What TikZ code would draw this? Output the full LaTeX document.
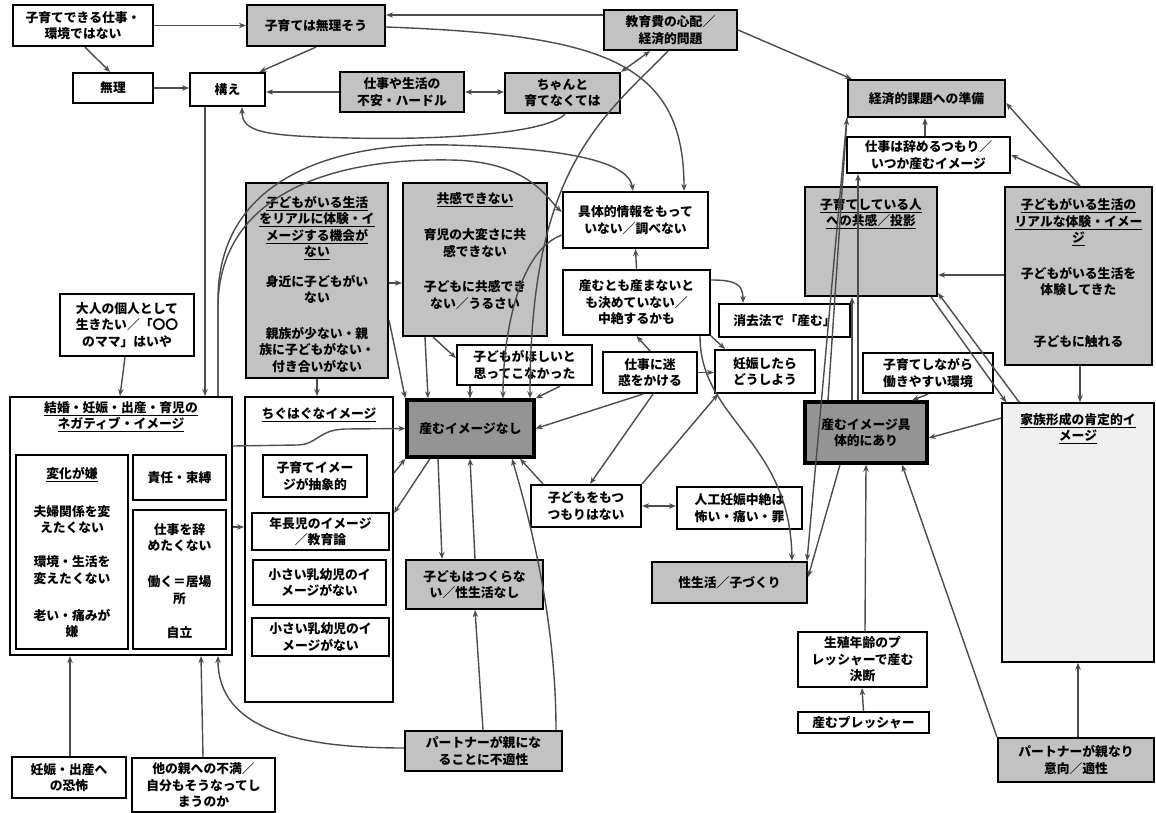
\documentclass[tikz,border=0pt]{standalone}
\usepackage{fontspec}
\setmainfont{Noto Sans CJK JP}
\usetikzlibrary{arrows.meta}
\definecolor{shade}{gray}{0.76}
\definecolor{dark}{gray}{0.58}
\definecolor{light}{gray}{0.94}
\definecolor{conc}{gray}{0.30}
\newcommand\jpf{\fontsize{12.8}{16.5}\selectfont\bfseries}
\tikzset{
  base/.style={draw=black, line width=2.2pt, inner sep=1pt, align=center, font=\jpf},
  wbox/.style={base, fill=white},
  gbox/.style={base, fill=shade},
  dbox/.style={base, fill=dark, line width=3.4pt},
  ibox/.style={base, fill=white, line width=1.8pt},
  lbox/.style={base, fill=light, line width=1.6pt},
  lbl/.style={inner sep=0pt, align=center, font=\jpf},
  con/.style={draw=conc, line width=1.4pt, -{Stealth[length=7pt,width=5.5pt]}},
  dcon/.style={draw=conc, line width=1.4pt, {Stealth[length=7pt,width=5.5pt]}-{Stealth[length=7pt,width=5.5pt]}},
}
\begin{document}
\begin{tikzpicture}[x=1pt,y=-1pt]
\useasboundingbox (0,0) rectangle (1156,813);
\fill[white] (0,0) rectangle (1156,813);

% ---------- nodes ----------
\node[wbox, minimum width=140pt, minimum height=41pt] (A1) at (83,25.5) {子育てできる仕事・\\環境ではない};
\node[gbox, minimum width=138pt, minimum height=41pt] (B) at (316,25.5) {子育ては無理そう};
\node[gbox, minimum width=133pt, minimum height=40pt] (C) at (670.5,30) {教育費の心配／\\経済的問題};
\node[wbox, minimum width=80pt, minimum height=30pt] (D) at (113,88) {無理};
\node[wbox, minimum width=75pt, minimum height=33pt] (E) at (227.5,89.5) {構え};
\node[gbox, minimum width=124pt, minimum height=40pt] (F) at (402,92) {仕事や生活の\\不安・ハードル};
\node[gbox, minimum width=115pt, minimum height=40pt] (G) at (562.5,93) {ちゃんと\\育てなくては};
\node[gbox, minimum width=157pt, minimum height=37pt] (H) at (926.5,98.5) {経済的課題への準備};
\node[wbox, minimum width=163pt, minimum height=36pt] (I) at (928.5,155) {仕事は辞めるつもり／\\いつか産むイメージ};

\node[gbox, minimum width=132pt, minimum height=109pt] (J) at (871,241.5) {};
\node[lbl] (Jt) at (871,213.5) {\underline{子育てしている人}\\\underline{への共感／投影}};

\node[gbox, minimum width=147pt, minimum height=178pt] (K) at (1078.5,276) {};
\node[lbl] (Kt1) at (1078.5,222) {\underline{子どもがいる生活の}\\\underline{リアルな体験・イメー}\\\underline{ジ}};
\node[lbl] (Kt2) at (1078.5,281.5) {子どもがいる生活を\\体験してきた};
\node[lbl] (Kt3) at (1078.5,342) {子どもに触れる};

\node[wbox, minimum width=145pt, minimum height=56pt] (L) at (635.5,220) {具体的情報をもって\\いない／調べない};
\node[wbox, minimum width=147pt, minimum height=65pt] (M) at (636.5,302.5) {産むとも産まないと\\も決めていない／\\中絶するかも};
\node[wbox, minimum width=131pt, minimum height=33pt] (N) at (784.5,320.5) {消去法で「産む」};

\node[gbox, minimum width=142pt, minimum height=195pt] (O) at (317,280.5) {};
\node[lbl] (Ot1) at (317,228) {\underline{子どもがいる生活}\\\underline{をリアルに体験・イ}\\\underline{メージする機会が}\\\underline{ない}};
\node[lbl] (Ot2) at (317,289.5) {身近に子どもがい\\ない};
\node[lbl] (Ot3) at (317,350) {親族が少ない・親\\族に子どもがない・\\付き合いがない};

\node[gbox, minimum width=144pt, minimum height=153pt] (P) at (475,259.5) {};
\node[lbl] (Pt1) at (475,200) {\underline{共感できない}};
\node[lbl] (Pt2) at (475,243) {育児の大変さに共\\感できない};
\node[lbl] (Pt3) at (475,295) {子どもに共感でき\\ない／うるさい};

\node[wbox, minimum width=134pt, minimum height=62pt] (Q) at (127,325) {大人の個人として\\生きたい／「〇〇\\のママ」はいや};

\node[wbox, line width=2pt, minimum width=222pt, minimum height=258pt] (R) at (121,526) {};
\node[lbl] (Rt) at (121,416.5) {\underline{結婚・妊娠・出産・育児の}\\\underline{ネガティブ・イメージ}};
\node[ibox, minimum width=112pt, minimum height=194pt] (R1) at (72,552) {};
\node[lbl] (R1t1) at (72,475) {\underline{変化が嫌}};
\node[lbl] (R1t2) at (72,519.5) {夫婦関係を変\\えたくない};
\node[lbl] (R1t3) at (72,570) {環境・生活を\\変えたくない};
\node[lbl] (R1t4) at (72,623.5) {老い・痛みが\\嫌};
\node[ibox, minimum width=93pt, minimum height=45pt] (R2) at (179.5,477.5) {責任・束縛};
\node[ibox, minimum width=93pt, minimum height=139pt] (R3) at (179.5,579.5) {};
\node[lbl] (R3t1) at (179.5,537.5) {仕事を辞\\めたくない};
\node[lbl] (R3t2) at (179.5,590) {働く＝居場\\所};
\node[lbl] (R3t3) at (179.5,633) {自立};

\node[wbox, line width=2pt, minimum width=148pt, minimum height=305pt] (S) at (319,549.5) {};
\node[lbl] (St) at (319,415) {\underline{ちぐはぐなイメージ}};
\node[ibox, minimum width=104pt, minimum height=42pt] (S1) at (315,476) {子育てイメー\\ジが抽象的};
\node[ibox, minimum width=137pt, minimum height=37pt] (S2) at (320.5,531.5) {年長児のイメージ\\／教育論};
\node[ibox, minimum width=133pt, minimum height=45pt] (S3) at (319.5,582.5) {小さい乳幼児のイ\\メージがない};
\node[ibox, minimum width=137pt, minimum height=38pt] (S4) at (320.5,637) {小さい乳幼児のイ\\メージがない};

\node[wbox, minimum width=135pt, minimum height=40pt] (T) at (524.5,365) {子どもがほしいと\\思ってこなかった};
\node[wbox, minimum width=94pt, minimum height=41pt] (U) at (650,372.5) {仕事に迷\\惑をかける};
\node[wbox, minimum width=100pt, minimum height=43pt] (V) at (765,371.5) {妊娠したら\\どうしよう};
\node[wbox, minimum width=130pt, minimum height=40pt] (W) at (928,373) {子育てしながら\\働きやすい環境};
\node[dbox, minimum width=127pt, minimum height=57pt] (X) at (470.5,428.5) {産むイメージなし};
\node[dbox, minimum width=122pt, minimum height=61pt] (Y) at (866,432.5) {産むイメージ具\\体的にあり};

\node[lbox, minimum width=152pt, minimum height=259pt] (Z) at (1078,532.5) {};
\node[lbl] (Zt) at (1078,428.5) {\underline{家族形成の肯定的イ}\\\underline{メージ}};

\node[wbox, minimum width=110pt, minimum height=42pt] (AA) at (586,506) {子どもをもつ\\つもりはない};
\node[wbox, minimum width=125pt, minimum height=42pt] (AB) at (739.5,508) {人工妊娠中絶は\\怖い・痛い・罪};
\node[gbox, minimum width=137pt, minimum height=49pt] (AC) at (474.5,584.5) {子どもはつくらな\\い／性生活なし};
\node[gbox, minimum width=155pt, minimum height=41pt] (AD) at (729.5,582.5) {性生活／子づくり};
\node[wbox, minimum width=129pt, minimum height=55pt] (AE) at (862.5,659.5) {生殖年齢のプ\\レッシャーで産む\\決断};
\node[wbox, minimum width=131pt, minimum height=21pt] (AF) at (863.5,722.5) {産むプレッシャー};
\node[gbox, minimum width=156pt, minimum height=44pt] (AG) at (1076,760) {パートナーが親なり\\意向／適性};
\node[gbox, minimum width=157pt, minimum height=40pt] (AH) at (483.5,751) {パートナーが親にな\\ることに不適性};
\node[wbox, minimum width=114pt, minimum height=41pt] (AI) at (69,777.5) {妊娠・出産へ\\の恐怖};
\node[wbox, minimum width=143pt, minimum height=54pt] (AJ) at (203.5,785) {他の親への不満／\\自分もそうなってし\\まうのか};

% ---------- connectors ----------
\draw[con] (A1.east) -- (A1.east -| B.west);
\draw[con] ([xshift=2pt]A1.south) -- ([xshift=-3pt]D.north);
\draw[con] (B.south) -- ([xshift=32pt]E.north);
\draw[con] (D.east) -- (D.east -| E.west);
\draw[con] (F.west) -- (F.west -| E.east);
\draw[dcon] (F.east) -- (F.east -| G.west);
\draw[con] ([yshift=15pt]C.west) -- ([yshift=15pt]C.west -| B.east);
\draw[con] ([yshift=-1.5pt]B.east) .. controls (600,35) and (684,60) .. ([xshift=48.5pt]L.north);
\draw[con] (C.east) -- ([xshift=-75pt]H.north);
\draw[dcon] (G.north east) -- ([xshift=-20.5pt]C.south);
\draw[con] ([xshift=-2.5pt]C.south) .. controls (600,120) and (530,170) .. ([xshift=59.5pt]X.north);
\draw[con] ([yshift=-15pt]L.west) .. controls (520,250) and (503,330) .. ([xshift=32.5pt]X.north);
\draw[con] ([xshift=97pt]R.north) -- (218,300) .. controls (218,175) and (340,142) .. (450,145) .. controls (560,148) and (628,160) .. ([xshift=-2.5pt]L.north);
\draw[con] ([xshift=97pt]R.north) -- (218,305) .. controls (220,195) and (330,158) .. (450,160) .. controls (530,161) and (548,200) .. ([yshift=8pt]L.west);
\draw[con] ([xshift=2.5pt]G.south) .. controls (545,135) and (430,140) .. (350,138) .. controls (262,136) and (242,132) .. ([xshift=14.5pt]E.south);
\draw[con] ([xshift=-22.5pt]E.south) -- ([xshift=84pt]R.north);
\draw[con] ([xshift=-2pt]Q.south) -- ([xshift=-1pt]R.north);
\draw[con] (O.south) -- ([xshift=-2pt]S.north);
\draw[con] ([yshift=-2.5pt]O.east) -- ([yshift=-2.5pt]O.east -| P.west);
\draw[con] ([yshift=-40pt]O.east) -- (X.north west);
\draw[con] ([xshift=-50pt]P.south) -- ([xshift=-42.5pt]X.north);
\draw[con] ([xshift=-42pt]P.south) -- ([yshift=7pt]T.west);
\draw[con] ([xshift=-54.5pt]T.south) -- ([xshift=-0.5pt]X.north);
\draw[con] ([xshift=35.5pt]T.south) -- (X.north east);
\draw[con] ([xshift=-7pt]U.south) -- (X.east);
\draw[con] ([xshift=3pt]U.south) -- ([xshift=4pt]AA.north);
\draw[con] (AA.north east) -- ([xshift=-47pt]V.south);
\draw[dcon] (AA.east) -- (AA.east -| AB.west);
\draw[con] (U.east) -- (U.east -| V.west);
\draw[con] (U.north) -- (M.south);
\draw[con] (M.north) -- (L.south);
\draw[con] ([yshift=22.5pt]M.east) .. controls (735,280) and (743,284) .. ([xshift=-41.5pt]N.north);
\draw[con] (M.south east) -- ([xshift=-40pt]V.north);
\draw[con] ([xshift=63.5pt]M.south) .. controls (700,420) and (790,440) .. ([xshift=62.5pt]AD.north);
\draw[con] ([xshift=-32.5pt]X.south) -- ([xshift=-32.5pt]AC.north);
\draw[con] ([xshift=0.5pt]AC.north) -- ([xshift=-0.5pt]X.south);
\draw[con] ([xshift=-0.5pt]AH.north) -- ([xshift=0.5pt]AC.south);
\draw[con] ([xshift=72.5pt]AH.north) .. controls (556,620) and (530,520) .. ([xshift=41.5pt]X.south);
\draw[con] ([yshift=3pt]AH.west) .. controls (300,748) and (218,730) .. ([xshift=97pt]R.south);
\draw[con] ([xshift=1pt]AI.north) -- ([xshift=-51pt]R.south);
\draw[con] ([xshift=-0.5pt]AJ.north) -- ([xshift=80pt]R.south);
\draw[con] ([xshift=-43pt]AA.north) -- ([xshift=49.5pt]X.south);
\draw[con] ([yshift=80pt]R.east) -- (298,445) .. controls (318,444) and (318,430) .. (345,429) -- (X.west);
\draw[con] ([yshift=-1pt]R.east) -- ([yshift=-1pt]R.east -| S.west);
\draw[con] ([yshift=76.5pt]S.east) -- (X.south west);
\draw[con] ([xshift=-40.5pt]X.south) -- ([yshift=36.5pt]S.east);

\draw[con] ([xshift=1.5pt]K.north) -- ([yshift=-4.5pt]H.east);
\draw[con] ([xshift=1.5pt]K.north) -- (I.east);
\draw[con] ([xshift=-3.5pt]I.north) -- ([xshift=-1.5pt]H.south);
\draw[con] ([yshift=1pt]K.west) -- ([yshift=1pt]K.west -| J.east);
\draw[con] ([xshift=1.5pt]K.south) -- ([xshift=2pt]Z.north);
\draw[con] ([xshift=18pt]Z.north west) -- ([yshift=4pt]J.south east);
\draw[con] ([xshift=-7pt]J.south east) -- ([xshift=5pt]Z.north west);
\draw[con] ([yshift=114.5pt]Z.west) -- ([yshift=-5.5pt]Y.east);
\draw[con] (W.south) -- ([xshift=46pt]Y.north);
\draw[con] ([xshift=2.5pt]AE.north) -- (Y.south);
\draw[con] (AF.north) -- ([xshift=-0.5pt]AE.south);
\draw[con] (AG.north west) -- ([xshift=36pt]Y.south);
\draw[con] ([xshift=2pt]AG.north) -- (Z.south);
\draw[con] ([xshift=-8pt]Y.north) -- ([xshift=-70.5pt]I.south);
\draw[con] ([xshift=-14pt]Y.north) -- ([xshift=-19pt]J.south);
\draw[con] ([xshift=-38pt]Y.north) -- (H.south west);
\draw[con] (H.south west) -- ([xshift=77.5pt]AD.north);
\draw[con] ([xshift=-26pt]Y.south) -- ([yshift=5.5pt]AD.east);
\end{tikzpicture}
\end{document}
